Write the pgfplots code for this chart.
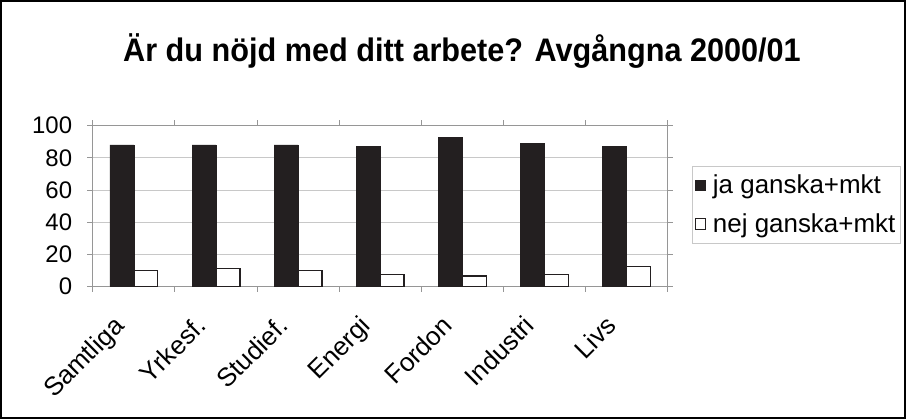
\documentclass[border=0pt]{standalone}
\usepackage{fontspec}
\setmainfont{Liberation Sans}
\usepackage{graphicx}
\usepackage{pgfplots}
\pgfplotsset{compat=1.18}
\definecolor{barblack}{RGB}{35,31,32}
\definecolor{gridgray}{RGB}{200,200,200}
\definecolor{framegray}{RGB}{150,150,150}

\begin{document}
\begin{tikzpicture}[x=0.75pt,y=0.75pt]
% outer frame (906 x 418 px, axis origin at px (92,286))
\draw[line width=1.5pt,black] (-92,-132) rectangle (814,286);
\begin{axis}[
    at={(0,0)}, anchor=south west,
    scale only axis,
    width=432pt, height=120.75pt,
    ybar=0pt, bar width=18pt,
    xmin=-0.5, xmax=6.5,
    ymin=0, ymax=100,
    xtick={0,...,6},
    xticklabels={Samtliga,Yrkesf.,Studief.,Energi,Fordon,Industri,Livs},
    minor xtick={-0.5,0.5,...,6.5},
    major x tick style={draw=none},
    minor tick length=4pt,
    ytick={0,20,...,100},
    tick align=outside,
    major tick length=4pt,
    ymajorgrids=true,
    grid style={gridgray, line width=0.6pt},
    axis line style={framegray, line width=0.8pt},
    tick style={framegray, line width=0.6pt},
    xticklabel style={font=\fontsize{19.5}{22}\selectfont, rotate=45, anchor=north east, xshift=-20pt, yshift=3pt},
    yticklabel style={font=\fontsize{18}{21}\selectfont, xshift=-8pt},
    /pgf/number format/assume math mode=true,
    legend style={
        at={(1.042,0.752)}, anchor=north west,
        draw=gridgray, font=\fontsize{19.5}{22}\selectfont,
        row sep=9pt, inner xsep=2pt, inner ysep=5pt,
        cells={anchor=west}},
    legend image code/.code={
        \draw[#1, bar width=0pt, line width=0.6pt] (0pt,-4pt) rectangle (8pt,4pt);
        \path (11pt,0pt);},
]
\addplot+[fill=barblack, draw=barblack, line width=0.5pt]
    coordinates {(0,88) (1,88) (2,88) (3,87) (4,92.5) (5,89) (6,87)};
\addlegendentry{ja ganska+mkt}
\addplot+[fill=white, draw=barblack, line width=1pt]
    coordinates {(0,10) (1,11) (2,10) (3,7.5) (4,6.5) (5,7.5) (6,12.5)};
\addlegendentry{nej ganska+mkt}
\end{axis}
\node[font=\bfseries\fontsize{24.5}{28}\selectfont] at (370,236) {\scalebox{0.94}[1]{Är du nöjd med ditt arbete? Avgångna 2000/01}};
\end{tikzpicture}
\end{document}
